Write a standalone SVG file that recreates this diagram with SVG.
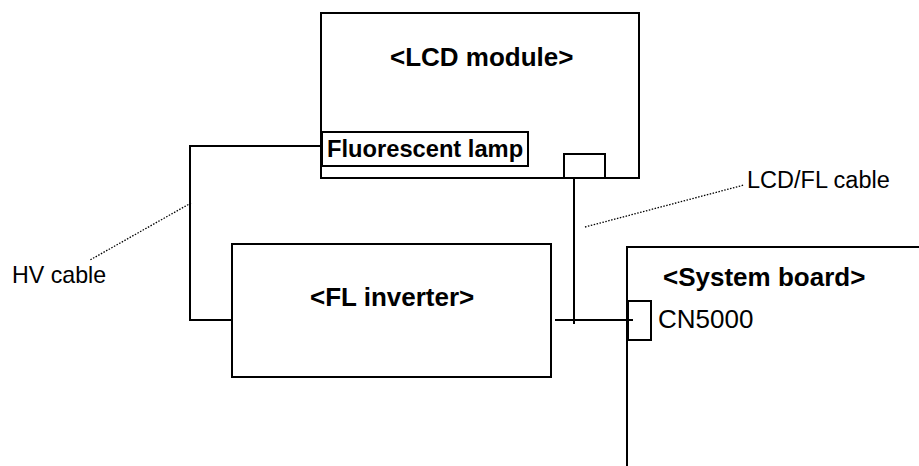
<svg xmlns="http://www.w3.org/2000/svg" width="919" height="466" viewBox="0 0 919 466">
<style>
.box{fill:none;stroke:#000;stroke-width:2}
.wire{fill:none;stroke:#000;stroke-width:2}
.dot{fill:none;stroke:#000;stroke-width:1.3;stroke-dasharray:1.5 1.5}
.h{font-family:"Liberation Sans",Arial,sans-serif;font-weight:bold;font-size:26px;fill:#000}
.t{font-family:"Liberation Sans",Arial,sans-serif;font-size:23.5px;fill:#000}
</style>
<rect width="919" height="466" fill="#fff"/>
<g id="connectors">
<polyline class="wire" points="322,146 190,146 190,320 232,320"/>
<line class="wire" x1="574" y1="178" x2="574" y2="324"/>
<line class="wire" x1="555" y1="320" x2="633" y2="320"/>
<line class="dot" x1="191" y1="203" x2="90" y2="260"/>
<line class="dot" x1="585" y1="227" x2="744" y2="185"/>
</g>
<g id="lcd-module">
<rect class="box" x="321" y="13" width="318" height="165"/>
<text class="h" x="390" y="66">&lt;LCD module&gt;</text>
</g>
<g id="fluorescent-lamp">
<rect class="box" x="322" y="132" width="206" height="34"/>
<text class="h" x="327" y="157" style="font-size:23.7px">Fluorescent lamp</text>
</g>
<g id="lcd-connector">
<rect class="box" x="564" y="154" width="41" height="24"/>
</g>
<g id="fl-inverter">
<rect class="box" x="232" y="244" width="319" height="133"/>
<text class="h" x="310" y="306">&lt;FL inverter&gt;</text>
</g>
<g id="system-board">
<polyline class="box" points="627,466 627,247 919,247"/>
<text class="h" x="663" y="286">&lt;System board&gt;</text>
</g>
<g id="cn5000">
<rect class="box" x="628" y="301" width="23" height="39"/>
<text class="t" x="658" y="328" style="font-size:26px">CN5000</text>
</g>
<g id="hv-cable-label">
<text class="t" x="12" y="283" style="font-size:23.2px">HV cable</text>
</g>
<g id="lcdfl-cable-label">
<text class="t" x="747" y="188">LCD/FL cable</text>
</g>
</svg>
